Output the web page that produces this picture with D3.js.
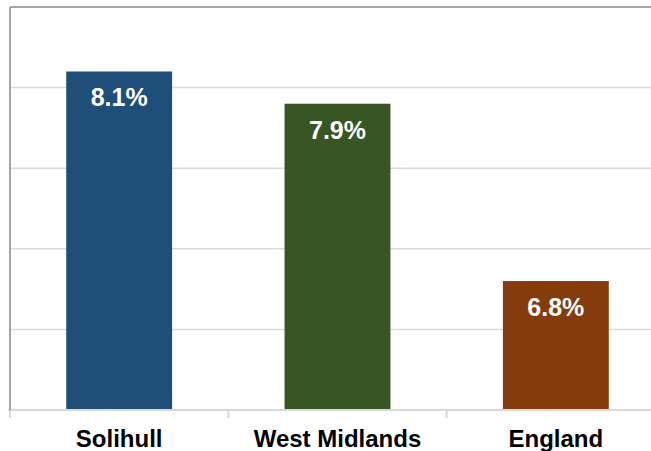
<!DOCTYPE html>
<html lang="en">
<head>
  <meta charset="UTF-8">
  <title>Solihull vs West Midlands vs England</title>
  <script src="https://cdn.jsdelivr.net/npm/d3@7"></script>
</head>
<body style="margin:0; background:#fff;">
<script>
  const categories = ["Solihull", "West Midlands", "England"];
  const values = [8.1, 7.9, 6.8];
  const colors = ["#1F4E79", "#375623", "#843C0C"];
  const gridTicks = [6.5, 7, 7.5, 8];

  const width = 651, height = 451;
  const plotLeft = 10, plotRight = 665, plotTop = 7, plotBottom = 410;

  const x = d3.scaleBand().domain(categories).range([plotLeft, plotRight])
    .paddingInner(0.515).paddingOuter(0.2575);
  const y = d3.scaleLinear().domain([6, 8.5]).range([plotBottom, plotTop]);

  const svg = d3.select("body").append("svg")
    .attr("width", width).attr("height", height)
    .style("display", "block");

  // gridlines
  svg.append("g").selectAll("line").data(gridTicks).enter().append("line")
    .attr("x1", plotLeft).attr("x2", plotRight)
    .attr("y1", d => y(d)).attr("y2", d => y(d))
    .attr("stroke", "#d9d9d9").attr("stroke-width", 1.5);

  // top border of plot area
  svg.append("line")
    .attr("x1", plotLeft).attr("x2", plotRight)
    .attr("y1", y(8.5)).attr("y2", y(8.5))
    .attr("stroke", "#a6a6a6").attr("stroke-width", 2);

  // bars
  svg.append("g").selectAll("rect").data(values).enter().append("rect")
    .attr("x", (d, i) => x(categories[i]))
    .attr("width", x.bandwidth())
    .attr("y", d => y(d))
    .attr("height", d => y(6) - y(d))
    .attr("fill", (d, i) => colors[i]);

  // value labels
  svg.append("g").selectAll("text").data(values).enter().append("text")
    .attr("x", (d, i) => x(categories[i]) + x.bandwidth() / 2)
    .attr("y", d => y(d) + 35)
    .attr("text-anchor", "middle")
    .attr("fill", "#fff")
    .style("font-family", "'Liberation Sans', Arial, sans-serif")
    .style("font-weight", "bold")
    .style("font-size", "25px")
    .text(d => d.toFixed(1) + "%");

  // x axis baseline and separator ticks
  const gap = x.step() - x.bandwidth();
  const sep = categories.map(c => x(c) - gap / 2).concat([plotRight]);
  svg.append("line")
    .attr("x1", plotLeft - 2).attr("x2", plotRight)
    .attr("y1", plotBottom).attr("y2", plotBottom)
    .attr("stroke", "#d9d9d9").attr("stroke-width", 2);
  svg.append("g").selectAll("line").data(sep).enter().append("line")
    .attr("x1", d => d).attr("x2", d => d)
    .attr("y1", plotBottom).attr("y2", plotBottom + 8)
    .attr("stroke", "#d9d9d9").attr("stroke-width", 2);

  // y axis line
  svg.append("line")
    .attr("x1", plotLeft).attr("x2", plotLeft)
    .attr("y1", plotTop).attr("y2", plotBottom)
    .attr("stroke", "#a6a6a6").attr("stroke-width", 2);

  // category labels
  svg.append("g").selectAll("text").data(categories).enter().append("text")
    .attr("x", d => x(d) + x.bandwidth() / 2)
    .attr("y", 447)
    .attr("text-anchor", "middle")
    .attr("fill", "#000")
    .style("font-family", "'Liberation Sans', Arial, sans-serif")
    .style("font-weight", "bold")
    .style("font-size", "24px")
    .text(d => d);
</script>
</body>
</html>
